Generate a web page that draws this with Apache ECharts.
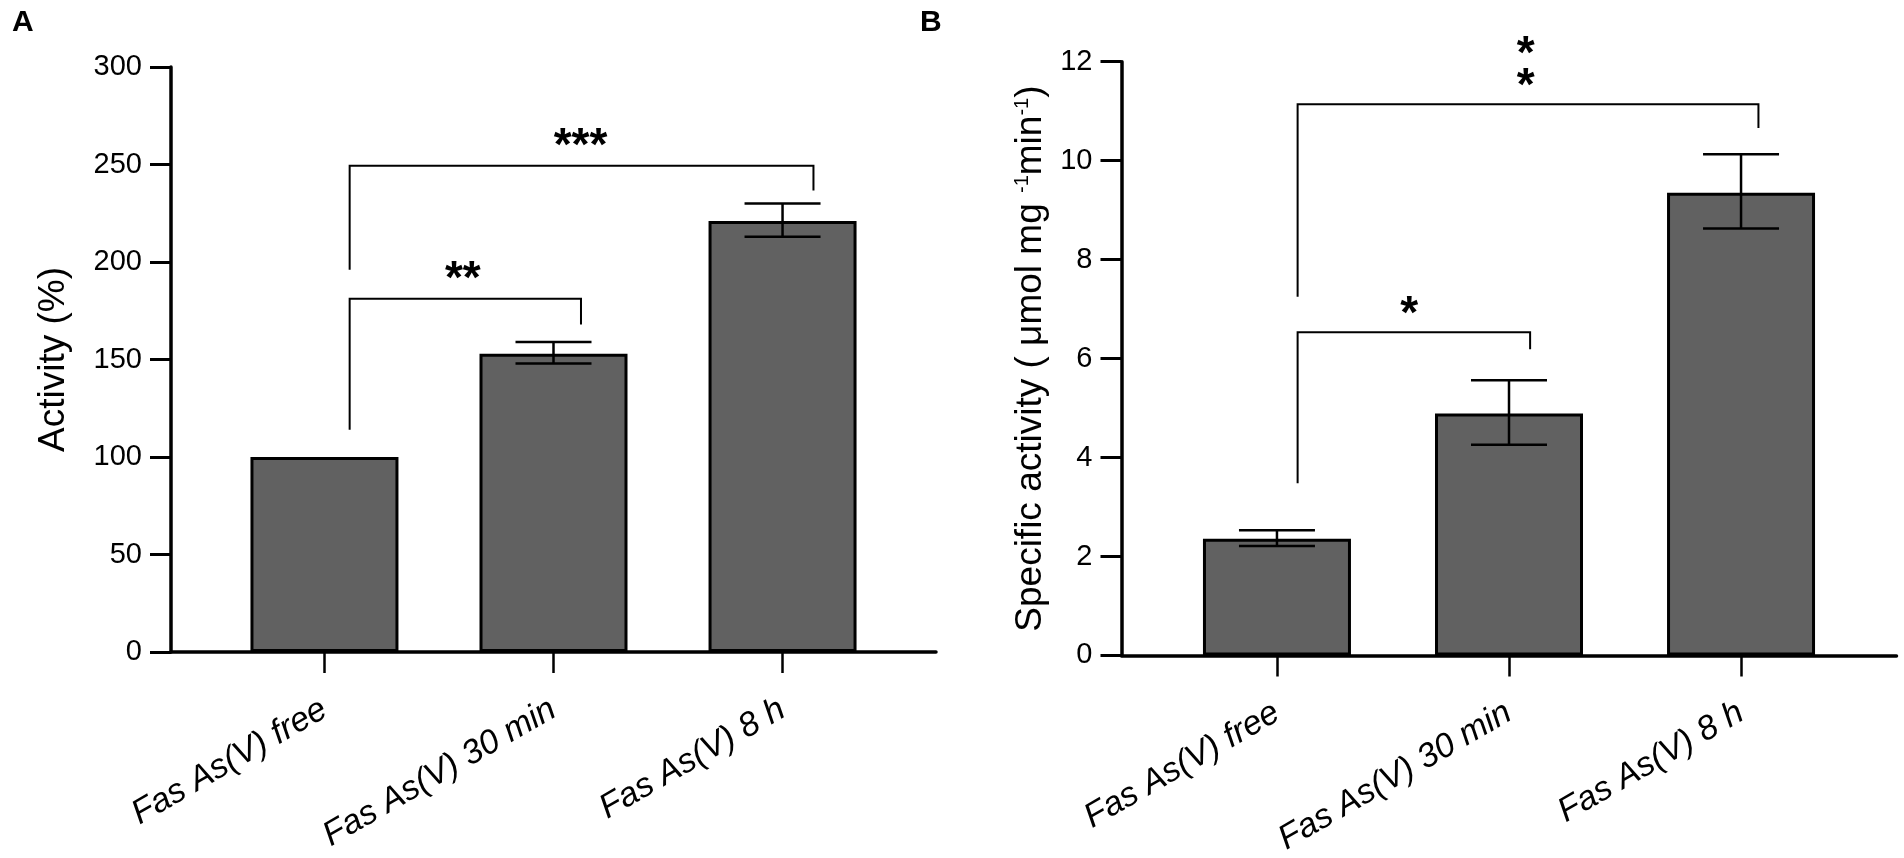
<!DOCTYPE html>
<html>
<head>
<meta charset="utf-8">
<style>
  html, body { margin: 0; padding: 0; background: #fff; }
  #chart { width: 1904px; height: 858px; }
</style>
<script src="https://cdn.jsdelivr.net/npm/echarts@6/dist/echarts.min.js"></script>
</head>
<body>
<div id="chart"></div>
<script>
// ---------- data ----------
const categories = ['Fas As(V) free', 'Fas As(V) 30 min', 'Fas As(V) 8 h'];

// Panel A: Activity (%)
const activityMean = [100, 153, 221];
const activityLow  = [100, 148, 213];
const activityHigh = [100, 159, 230];
const yTicksA = { min: 0, max: 300, interval: 50 };

// Panel B: Specific activity
const specificMean = [2.36, 4.89, 9.35];
const specificLow  = [2.21, 4.26, 8.63];
const specificHigh = [2.53, 5.56, 10.13];
const yTicksB = { min: 0, max: 12, interval: 2 };

// significance brackets: [xLeft, yLeftEnd, yTop, xRight, yRightEnd, xStar, yStar]
const bracketsA = [
  [0.11, 114, 181.1, 1.12, 168, 0.604, 196.1],
  [0.11, 196, 249.4, 2.135, 236.7, 1.118, 264.4]
];
const starsA = ['**', '***'];
const bracketsB = [
  [0.089, 3.48, 6.53, 1.091, 6.19, 0.57, 7.08],
  [0.089, 7.25, 11.14, 2.075, 10.66, 1.072, 12.02]
];
const starsB = ['*', '*\n*'];

// ---------- styling ----------
const FONT = "'Liberation Sans', Arial, Helvetica, sans-serif";
const BAR_FILL = '#616161';

function errorBarRender(params, api) {
  const x = api.value(0), lo = api.value(1), hi = api.value(2);
  if (lo === hi) return null;
  const pLo = api.coord([x, lo]);
  const pHi = api.coord([x, hi]);
  const hw = 38;
  const st = { stroke: '#000', lineWidth: 2.5 };
  return {
    type: 'group',
    children: [
      { type: 'line', shape: { x1: pLo[0], y1: pLo[1], x2: pHi[0], y2: pHi[1] }, style: st },
      { type: 'line', shape: { x1: pHi[0] - hw, y1: pHi[1], x2: pHi[0] + hw, y2: pHi[1] }, style: st },
      { type: 'line', shape: { x1: pLo[0] - hw, y1: pLo[1], x2: pLo[0] + hw, y2: pLo[1] }, style: st }
    ]
  };
}

function makeBracketRender(labels) {
  return function (params, api) {
    const x1 = api.value(0), y1 = api.value(1), yt = api.value(2);
    const x2 = api.value(3), y2 = api.value(4), xs = api.value(5), ys = api.value(6);
    const a = api.coord([x1, y1]), b = api.coord([x1, yt]);
    const c = api.coord([x2, yt]), d = api.coord([x2, y2]);
    const s = api.coord([xs, ys]);
    const fs = 46;
    return {
      type: 'group',
      children: [
        { type: 'polyline', shape: { points: [a, b, c, d] },
          style: { stroke: '#000', lineWidth: 2, fill: null } },
        { type: 'text', x: s[0], y: s[1] + 0.23 * fs,
          style: { text: labels[params.dataIndex], fontSize: fs, fontWeight: 'bold',
                   fontFamily: FONT, fill: '#000', align: 'center', verticalAlign: 'middle',
                   lineHeight: 32 } }
      ]
    };
  };
}

function xAxisCfg(gridIndex) {
  return {
    type: 'value', gridIndex: gridIndex, min: -0.67, max: 2.67,
    axisLine: { show: true, onZero: false, lineStyle: { color: '#000', width: 3.5 } },
    axisTick: { show: true, customValues: [0, 1, 2], length: 21, lineStyle: { color: '#000', width: 2.5 } },
    axisLabel: {
      show: true, customValues: [0, 1, 2],
      formatter: function (v) { return categories[Math.round(v)]; },
      rotate: 30, margin: 55, fontSize: 34, fontStyle: 'italic', color: '#000', fontFamily: FONT
    },
    splitLine: { show: false }
  };
}

function yAxisCfg(gridIndex, ticks, name, nameGap, rich) {
  return {
    type: 'value', gridIndex: gridIndex, min: ticks.min, max: ticks.max, interval: ticks.interval,
    name: name, nameLocation: 'middle', nameGap: nameGap,
    nameTextStyle: Object.assign({ fontSize: 37, color: '#000', fontFamily: FONT }, rich ? { rich: rich } : {}),
    axisLine: { show: true, onZero: false, lineStyle: { color: '#000', width: 3.5 } },
    axisTick: { show: true, length: 21, lineStyle: { color: '#000', width: 3 } },
    axisLabel: { margin: 29, fontSize: 29, color: '#000', fontFamily: FONT },
    splitLine: { show: false }
  };
}

const barStyle = { color: BAR_FILL, borderColor: '#000', borderWidth: 3 };

const option = {
  animation: false,
  backgroundColor: '#fff',
  title: [
    { text: 'A', left: 12, top: 8, padding: 0, textStyle: { fontSize: 30, fontWeight: 'bold', color: '#000', fontFamily: FONT } },
    { text: 'B', left: 920, top: 8, padding: 0, textStyle: { fontSize: 30, fontWeight: 'bold', color: '#000', fontFamily: FONT } }
  ],
  grid: [
    { left: 171, top: 67, width: 765, height: 585 },
    { left: 1121.5, top: 61.7, width: 775, height: 595 }
  ],
  xAxis: [xAxisCfg(0), xAxisCfg(1)],
  yAxis: [
    yAxisCfg(0, yTicksA, 'Activity (%)', 99),
    yAxisCfg(1, yTicksB, 'Specific activity ( μmol mg {sup|-1}min{sup|-1})', 72,
      { sup: { fontSize: 20, verticalAlign: 'top', color: '#000', fontFamily: FONT } })
  ],
  series: [
    { type: 'bar', xAxisIndex: 0, yAxisIndex: 0, barWidth: 148, itemStyle: barStyle,
      data: activityMean.map((v, i) => [i, v]) },
    { type: 'custom', xAxisIndex: 0, yAxisIndex: 0, renderItem: errorBarRender, clip: false, z: 5,
      data: activityMean.map((v, i) => [i, activityLow[i], activityHigh[i]]) },
    { type: 'custom', xAxisIndex: 0, yAxisIndex: 0, renderItem: makeBracketRender(starsA), clip: false, z: 5,
      data: bracketsA },
    { type: 'bar', xAxisIndex: 1, yAxisIndex: 1, barWidth: 148, itemStyle: barStyle,
      data: specificMean.map((v, i) => [i, v]) },
    { type: 'custom', xAxisIndex: 1, yAxisIndex: 1, renderItem: errorBarRender, clip: false, z: 5,
      data: specificMean.map((v, i) => [i, specificLow[i], specificHigh[i]]) },
    { type: 'custom', xAxisIndex: 1, yAxisIndex: 1, renderItem: makeBracketRender(starsB), clip: false, z: 5,
      data: bracketsB }
  ]
};

const chart = echarts.init(document.getElementById('chart'), null, { renderer: 'canvas' });
chart.setOption(option);
</script>
</body>
</html>
